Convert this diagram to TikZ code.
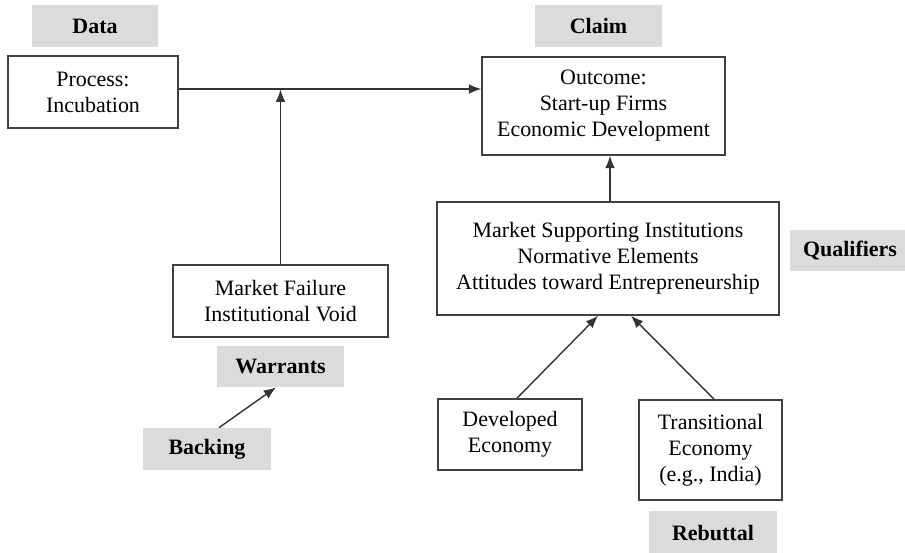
\documentclass[tikz,border=0pt]{standalone}
\usepackage{fontspec}
\setmainfont{Liberation Serif}
\usetikzlibrary{arrows.meta}
\begin{document}
\begin{tikzpicture}[x=0.02cm, y=0.02cm,
  font=\fontsize{12.5}{14.8}\selectfont,
  box/.style={draw=black!75, line width=0.9pt, align=center, inner sep=0pt},
  lbl/.style={fill=black!14, font=\fontsize{12.5}{14.8}\selectfont\bfseries, inner sep=0pt},
  arr/.style={-{Latex[length=7pt,width=5.5pt]}, line width=0.8pt, draw=black!80}]
\useasboundingbox (0,0) rectangle (905,553);

\node[lbl, minimum width=2.52cm, minimum height=0.84cm] (data) at (95,527) {Data};
\node[lbl, minimum width=2.54cm, minimum height=0.84cm] (claim) at (598.5,527) {Claim};
\node[lbl, minimum width=2.54cm, minimum height=0.82cm] (warr) at (280.5,186.5) {Warrants};
\node[lbl, minimum width=2.56cm, minimum height=0.84cm] (back) at (207,104) {Backing};
\node[lbl, minimum width=2.40cm, minimum height=0.82cm] (qual) at (850,302.5) {Qualifiers};
\node[lbl, minimum width=2.56cm, minimum height=0.88cm] (rebut) at (713,20) {Rebuttal};

\node[box, minimum width=3.40cm, minimum height=1.44cm] (proc) at (93,461) {Process:\\Incubation};
\node[box, minimum width=4.86cm, minimum height=1.96cm] (outc) at (603.5,447) {Outcome:\\Start-up Firms\\Economic Development};
\node[box, minimum width=4.30cm, minimum height=1.44cm] (mfail) at (280.5,252) {Market Failure\\Institutional Void};
\node[box, minimum width=6.84cm, minimum height=2.26cm] (msi) at (608,294.5) {Market Supporting Institutions\\Normative Elements\\Attitudes toward Entrepreneurship};
\node[box, minimum width=2.88cm, minimum height=1.42cm] (dev) at (510,118.5) {Developed\\Economy};
\node[box, minimum width=2.86cm, minimum height=2.00cm] (trans) at (710.5,103) {Transitional\\Economy\\(e.g., India)};

\draw[arr] ([yshift=0.06cm]proc.east) -- ([yshift=0.06cm]proc.east -| outc.west);
\draw[arr] (mfail.north) -- ([yshift=0.05cm]mfail.north |- proc.east);
\draw[arr] ([xshift=0.04cm]msi.north) -- ([xshift=0.04cm]msi.north |- outc.south);
\draw[arr] ([xshift=0.24cm]back.north) -- ([xshift=-0.09cm]warr.south);
\draw[arr] ([xshift=0.14cm]dev.north) -- ([xshift=-0.2cm]msi.south);
\draw[arr] ([xshift=0.07cm]trans.north) -- ([xshift=0.46cm]msi.south);
\end{tikzpicture}
\end{document}
